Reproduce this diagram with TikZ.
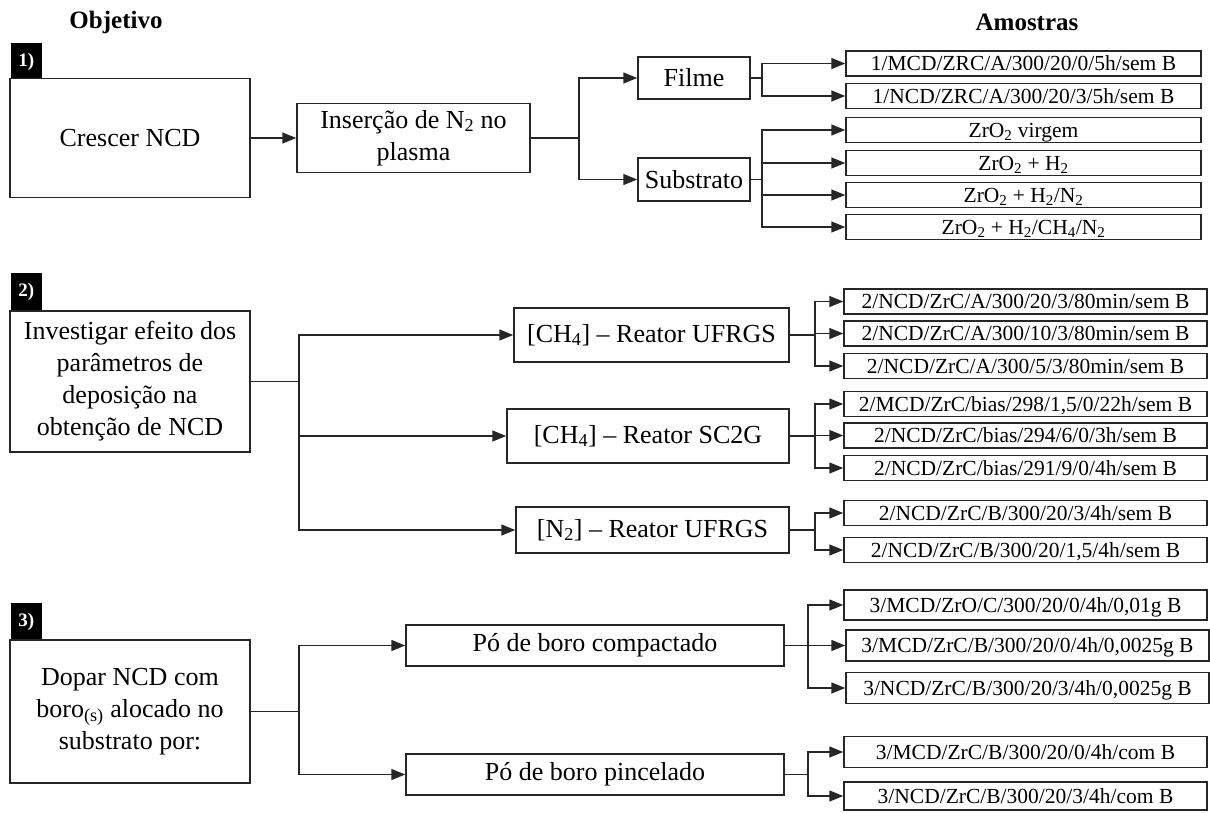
\documentclass[tikz,border=0pt]{standalone}
\usepackage{fontspec}
\setmainfont{Liberation Serif}
\usetikzlibrary{arrows.meta}
\newcommand\MainSz{\fontsize{26}{32}\selectfont}
\newcommand\SampSz{\fontsize{21.5}{24}\selectfont}
\newcommand\TitSz{\fontsize{25}{30}\selectfont}
\tikzset{
  bx/.style={draw=black!85, line width=1.5pt, inner sep=0pt, align=center, fill=white},
  mainbox/.style={bx, font=\MainSz, minimum width=240pt},
  midbox/.style={bx, font=\MainSz},
  sampbox/.style={bx, font=\SampSz, minimum width=363pt, minimum height=25pt, text height=16pt, text depth=2pt},
  tagbox/.style={fill=black, text=white, font=\bfseries\fontsize{19}{22}\selectfont, inner sep=0pt, minimum width=31pt, minimum height=37pt},
  arr/.style={line width=1.5pt, draw=black!85, -{Triangle[length=14pt,width=11pt]}},
  ln/.style={line width=1.5pt, draw=black!85}
}
\begin{document}
\begin{tikzpicture}[x=1pt, y=-1pt]
\useasboundingbox (0,0) rectangle (1210,812);
% titles
\node[font=\bfseries\TitSz] (tobj) at (116,22) {Objetivo};
\node[font=\bfseries\TitSz] (tams) at (1027,22) {Amostras};

% ---------- Section 1
\node[tagbox] (lab1) at (26.3,61.5) {1)};
\node[mainbox, minimum height=119pt] (crescer) at (130,138) {Crescer NCD};
\node[midbox, minimum width=233pt, minimum height=69pt] (insercao) at (413.5,138) {Inserção de N\textsubscript{2} no\\plasma};
\node[midbox, minimum width=112pt, minimum height=42pt] (filme) at (694,78) {Filme};
\node[midbox, minimum width=112pt, minimum height=43pt] (substrato) at (694,179.5) {Substrato};
\node[sampbox, minimum width=355pt] (s1) at (1023.5,63.5) {1/MCD/ZRC/A/300/20/0/5h/sem B};
\node[sampbox, minimum width=355pt] (s2) at (1023.5,96) {1/NCD/ZRC/A/300/20/3/5h/sem B};
\node[sampbox, minimum width=355pt] (s3) at (1023.5,130) {ZrO\textsubscript{2} virgem};
\node[sampbox, minimum width=355pt] (s4) at (1023.5,163) {ZrO\textsubscript{2} + H\textsubscript{2}};
\node[sampbox, minimum width=355pt] (s5) at (1023.5,195) {ZrO\textsubscript{2} + H\textsubscript{2}/N\textsubscript{2}};
\node[sampbox, minimum width=355pt] (s6) at (1023.5,227) {ZrO\textsubscript{2} + H\textsubscript{2}/CH\textsubscript{4}/N\textsubscript{2}};

\draw[arr] (crescer.east) -- (insercao.west);
\draw[arr] (insercao.east) -- ++(48,0) |- (filme.west);
\draw[arr] (insercao.east) -- ++(48,0) |- (substrato.west);
\draw[arr] (filme.east) -- ++(11,0) |- (s1.west);
\draw[arr] (filme.east) -- ++(11,0) |- (s2.west);
\draw[arr] (substrato.east) -- ++(11,0) |- (s3.west);
\draw[arr] (substrato.east) -- ++(11,0) |- (s4.west);
\draw[arr] (substrato.east) -- ++(11,0) |- (s5.west);
\draw[arr] (substrato.east) -- ++(11,0) |- (s6.west);

% ---------- Section 2
\node[tagbox, minimum height=38pt] (lab2) at (26.3,292) {2)};
\node[mainbox, minimum height=141pt] (investigar) at (130,381.5) {Investigar efeito dos\\parâmetros de\\deposição na\\obtenção de NCD};
\node[midbox, minimum width=275pt, minimum height=54pt] (ufrgsa) at (651.5,335) {[CH\textsubscript{4}] – Reator UFRGS};
\node[midbox, minimum width=282pt, minimum height=54pt] (sctwo) at (648,436) {[CH\textsubscript{4}] – Reator SC2G};
\node[midbox, minimum width=273pt, minimum height=46pt] (ntwo) at (652.5,530) {[N\textsubscript{2}] – Reator UFRGS};
\node[sampbox] (t1) at (1025.5,301.5) {2/NCD/ZrC/A/300/20/3/80min/sem B};
\node[sampbox] (t2) at (1025.5,333.5) {2/NCD/ZrC/A/300/10/3/80min/sem B};
\node[sampbox] (t3) at (1025.5,366) {2/NCD/ZrC/A/300/5/3/80min/sem B};
\node[sampbox] (t4) at (1025.5,404) {2/MCD/ZrC/bias/298/1,5/0/22h/sem B};
\node[sampbox] (t5) at (1025.5,435.5) {2/NCD/ZrC/bias/294/6/0/3h/sem B};
\node[sampbox] (t6) at (1025.5,468) {2/NCD/ZrC/bias/291/9/0/4h/sem B};
\node[sampbox] (t7) at (1025.5,513) {2/NCD/ZrC/B/300/20/3/4h/sem B};
\node[sampbox] (t8) at (1025.5,550) {2/NCD/ZrC/B/300/20/1,5/4h/sem B};

\draw[arr] (investigar.east) -- ++(48,0) |- (ufrgsa.west);
\draw[arr] (investigar.east) -- ++(48,0) |- (sctwo.west);
\draw[arr] (investigar.east) -- ++(48,0) |- (ntwo.west);
\draw[arr] (ufrgsa.east) -- ++(25,0) |- (t1.west);
\draw[arr] (ufrgsa.east) -- ++(25,0) |- (t2.west);
\draw[arr] (ufrgsa.east) -- ++(25,0) |- (t3.west);
\draw[arr] (sctwo.east) -- ++(25,0) |- (t4.west);
\draw[arr] (sctwo.east) -- ++(25,0) |- (t5.west);
\draw[arr] (sctwo.east) -- ++(25,0) |- (t6.west);
\draw[arr] (ntwo.east) -- ++(25,0) |- (t7.west);
\draw[arr] (ntwo.east) -- ++(25,0) |- (t8.west);

% ---------- Section 3
\node[tagbox] (lab3) at (26.3,621.5) {3)};
\node[mainbox, minimum height=143pt] (dopar) at (130,711.5) {Dopar NCD com\\boro\textsubscript{(s)} alocado no\\substrato por:};
\node[midbox, minimum width=378pt, minimum height=41pt] (compac) at (595,645.5) {Pó de boro compactado};
\node[midbox, minimum width=378pt, minimum height=41pt] (pincel) at (595,774.5) {Pó de boro pincelado};
\node[sampbox, minimum height=30pt] (u1) at (1025.5,605) {3/MCD/ZrO/C/300/20/0/4h/0,01g B};
\node[sampbox, minimum height=31pt] (u2) at (1027.5,645.5) {3/MCD/ZrC/B/300/20/0/4h/0,0025g B};
\node[sampbox, minimum height=31pt] (u3) at (1027.5,688) {3/NCD/ZrC/B/300/20/3/4h/0,0025g B};
\node[sampbox, minimum height=31pt] (u4) at (1025.5,752) {3/MCD/ZrC/B/300/20/0/4h/com B};
\node[sampbox, minimum height=28pt] (u5) at (1025.5,796) {3/NCD/ZrC/B/300/20/3/4h/com B};

\draw[arr] (dopar.east) -- ++(48,0) |- (compac.west);
\draw[arr] (dopar.east) -- ++(48,0) |- (pincel.west);
\draw[arr] (compac.east) -- ++(23,0) |- (u1.west);
\draw[arr] (compac.east) -- ++(23,0) |- (u2.west);
\draw[arr] (compac.east) -- ++(23,0) |- (u3.west);
\draw[arr] (pincel.east) -- ++(23,0) |- (u4.west);
\draw[arr] (pincel.east) -- ++(23,0) |- (u5.west);
\end{tikzpicture}
\end{document}
